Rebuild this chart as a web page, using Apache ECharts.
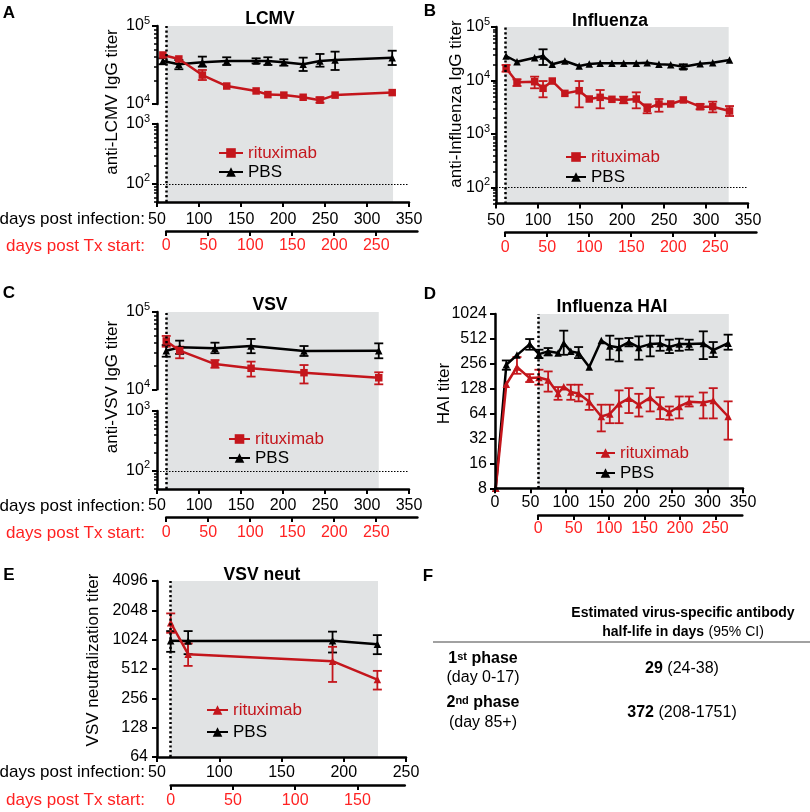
<!DOCTYPE html>
<html>
<head>
<meta charset="utf-8">
<title>Virus-specific antibody titers after rituximab</title>
<script src="https://cdn.jsdelivr.net/npm/echarts@6.0.0/dist/echarts.min.js"></script>
<style>
  html, body { margin: 0; padding: 0; background: #fff; }
  #chart { width: 810px; height: 812px; }
</style>
</head>
<body>
<div id="chart"></div>
<script>
// ---- data (days post infection, titers) ----
// A: LCMV
const aDays = [57, 76, 104, 133, 168, 182, 201, 224, 244, 262, 330];
const aRitux = [42500, 37800, 23500, 17000, 14700, 13200, 13000, 12200, 11200, 13000, 14000];
const aRituxLo = [null, null, 20300, null, null, null, null, null, 10400, null, null];
const aRituxHi = [null, null, 27300, null, null, null, null, null, 12200, null, null];
const aPbs = [35600, 32300, 34300, 35600, 35600, 35600, 34300, 32300, 35600, 36600, 39300];
const aPbsLo = [32300, 27900, 30100, 31600, 33200, 31600, 31000, 26500, 30100, 27300, 31600];
const aPbsHi = [38500, 36600, 40500, 39700, 38500, 39700, 37400, 39300, 43800, 46900, 48200];
const aShadeEnd = 331;

// B: Influenza
const bDays = [62, 75, 96, 106, 117, 132, 149, 161, 174, 188, 202, 217, 230, 244, 258, 273, 293, 308, 328];
const bRitux = [16900, 9250, 9500, 7150, 9770, 5750, 6450, 4510, 4850, 4450, 4330, 4510, 3020, 3640, 3640, 4330, 3240, 3240, 2690];
const bRituxLo = [14600, 7890, 7150, 4850, null, null, 3150, null, 3020, null, 3750, 3020, 2440, 2610, null, null, 2900, 2540, 2170];
const bRituxHi = [19500, 10500, 11800, 9770, null, null, 9770, null, 6640, null, 4980, 6010, 3590, 4510, null, null, 3640, 4020, 3330];
const bPbs = [28700, 22400, 26700, 28700, 20100, 23100, 18700, 20300, 20900, 20900, 20900, 20900, 21500, 20100, 19800, 18100, 20500, 21500, 24200];
const bPbsLo = [null, null, null, 19500, null, null, null, null, null, null, null, null, null, null, null, 16400, null, null, null];
const bPbsHi = [null, null, null, 38300, null, null, null, null, null, null, null, null, null, null, null, 20100, null, null, null];
const bShadeEnd = 327;

// C: VSV
const cDays = [61, 77, 119, 162, 225, 314];
const cRitux = [42200, 31600, 21200, 18700, 16400, 14100];
const cRituxLo = [35600, 25200, 19000, 14600, 11900, 11600];
const cRituxHi = [49000, 35600, 23900, 22800, 20600, 16600];
const cPbs = [31600, 34900, 33900, 36300, 31300, 31600];
const cPbsLo = [26400, 28700, 29300, 29300, 27000, 25200];
const cPbsHi = [37400, 42600, 40100, 44800, 36300, 39300];
const cShadeEnd = 314;

// D: Influenza HAI
const dDays = [1, 16, 31, 49, 62, 75, 89, 97, 107, 118, 133, 150, 162, 175, 189, 203, 219, 233, 246, 260, 274, 294, 308, 329];
const dRitux = [8, 145, 234, 172, 175, 163, 112, 135, 117, 112, 89, 59, 63.5, 84, 98, 82, 100, 78, 66, 78, 89, 87, 92, 59];
const dRituxLo = [null, null, 194, 154, 143, 118, 94, null, 94, 90, 71, 39, 49, 49, 65, 59, 68, 55, 54, 56, 78, 56, 56, 31];
const dRituxHi = [null, null, 309, 192, 217, 207, 134, null, 143, 143, 111, 82, 82, 122, 130, 111, 130, 101, 78, 103, 103, 115, 130, 90];
const dPbs = [8, 249, 326, 443, 335, 362, 345, 455, 362, 345, 234, 490, 421, 404, 469, 404, 443, 451, 408, 443, 443, 451, 375, 455];
const dPbsLo = [null, 217, null, 379, 300, 323, null, 329, null, 300, null, null, 287, 274, 416, 287, 315, 368, 345, 368, 379, 292, 309, 379];
const dPbsHi = [null, 281, null, 510, 379, 397, null, 644, null, 408, null, null, 560, 515, 525, 549, 560, 560, 501, 515, 501, 632, 469, 576];
const dShadeEnd = 330;

// E: VSV neutralization
const eDays = [61, 75, 191, 227];
const eRitux = [1527, 727, 616, 399];
const eRituxLo = [1205, 551, 377, 315];
const eRituxHi = [1904, 936, 865, 490];
const ePbs = [997, 995, 997, 921];
const ePbsLo = [768, 727, 756, 727];
const ePbsHi = [1254, 1254, 1238, 1140];
const eShadeEnd = 227.5;

// ticks
const dayTicks = [50, 100, 150, 200, 250, 300, 350];
const dayTicksD = [0, 50, 100, 150, 200, 250, 300, 350];
const dayTicksE = [50, 100, 150, 200, 250];
const txTicks = [0, 50, 100, 150, 200, 250];
const txTicksE = [0, 50, 100, 150];
const hiTiter = [10000, 100000];
const loTiter = [100, 1000];
const allTiter = [100, 1000, 10000, 100000];
const haiTicks = [8, 16, 32, 64, 128, 256, 512, 1024];
const neutTicks = [64, 128, 256, 512, 1024, 2048, 4096];
const detectionLimit = 100;
const TX_START = 61; // infection day of first rituximab dose

// ---- styling ----
const FONT = '"Liberation Sans", Arial, Helvetica, sans-serif';
const RED = '#c4161c';
const TX_RED = '#ff2222';
const SHADE = '#e1e3e4';

const grid = [], xAxis = [], yAxis = [], series = [], legend = [], graphic = [];

function addGrid(left, top, width, height) {
  grid.push({ left, top, width, height, containLabel: false, outerBoundsMode: 'none' });
  return grid.length - 1;
}
function hidden(list, gridIndex, min, max) {
  list.push({ type: 'value', gridIndex, min, max, show: false });
  return list.length - 1;
}
function dayAxis(gridIndex, min, max, ticks, color, margin) {
  xAxis.push({
    type: 'value', gridIndex, min, max, position: 'bottom', z: 5,
    axisLine: { show: true, onZero: false, lineStyle: { color: '#000', width: 2.5 } },
    axisTick: { show: true, length: 5, customValues: ticks, lineStyle: { color: '#000', width: 2 } },
    axisLabel: { show: true, customValues: ticks, margin, fontSize: 16, fontFamily: FONT, color },
    splitLine: { show: false }
  });
  return xAxis.length - 1;
}
const powRich = {
  b: { fontSize: 16, fontFamily: FONT, color: '#000', lineHeight: 22 },
  s: { fontSize: 11, fontFamily: FONT, color: '#000', lineHeight: 12, verticalAlign: 'top' }
};
function minorTicks(min, max) {
  const out = [];
  for (let k = 0; k <= 5; k++) {
    for (let m = 2; m <= 9; m++) {
      const v = m * Math.pow(10, k);
      if (v >= min && v <= max) out.push(v);
    }
  }
  return out;
}
function logAxis(gridIndex, min, max, base, majors, margin) {
  const label = base === 10
    ? { formatter: v => '{b|10}{s|' + Math.round(Math.log10(v)) + '}', rich: powRich }
    : { formatter: v => String(Math.round(v)), fontSize: 16, fontFamily: FONT, color: '#000' };
  yAxis.push({
    type: 'log', logBase: base, gridIndex, min, max, position: 'left', z: 5,
    axisLine: { show: true, onZero: false, lineStyle: { color: '#000', width: 2.5 } },
    axisTick: { show: true, length: 5, customValues: majors, lineStyle: { color: '#000', width: 2 } },
    axisLabel: Object.assign({ show: true, customValues: majors, margin }, label),
    splitLine: { show: false }
  });
  const idx = yAxis.length - 1;
  if (base === 10) {
    yAxis.push({
      type: 'log', logBase: 10, gridIndex, min, max, position: 'left', z: 5,
      axisLine: { show: false },
      axisTick: { show: true, length: 3, customValues: minorTicks(min, max), lineStyle: { color: '#000', width: 1.5 } },
      axisLabel: { show: false }, splitLine: { show: false }
    });
  }
  return idx;
}
function txAxis(left, width, min, max, txMax, ticks, axisY, margin) {
  const ppd = width / (max - min);
  const g = addGrid(left + (TX_START - min) * ppd, axisY - 1, txMax * ppd, 1);
  dayAxis(g, 0, txMax, ticks, TX_RED, margin);
  hidden(yAxis, g, 0, 1);
}
function backdrop(xi, yi, shadeEnd) {
  series.push({
    type: 'line', xAxisIndex: xi, yAxisIndex: yi, data: [], z: 1, silent: true,
    markArea: { silent: true, itemStyle: { color: SHADE }, data: [[{ xAxis: TX_START }, { xAxis: shadeEnd }]] },
    markLine: {
      silent: true, symbol: 'none', label: { show: false },
      lineStyle: { color: '#000', width: 2.5, type: [2.2, 2.5] }, data: [{ xAxis: TX_START }]
    }
  });
}
function limitLine(xi, yi) {
  series.push({
    type: 'line', xAxisIndex: xi, yAxisIndex: yi, data: [], z: 1, silent: true,
    markLine: {
      silent: true, symbol: 'none', label: { show: false },
      lineStyle: { color: '#000', width: 1.2, type: [1.5, 1.5] }, data: [{ yAxis: detectionLimit }]
    }
  });
}
function lineSeries(name, color, symbol, xi, yi, days, vals) {
  series.push({
    name, type: 'line', xAxisIndex: xi, yAxisIndex: yi,
    data: days.map((d, i) => [d, vals[i]]),
    symbol, symbolSize: 7.5, showSymbol: true, z: 4,
    color, itemStyle: { color }, lineStyle: { color, width: 2.5 }
  });
}
function errorBars(color, xi, yi, days, lo, hi) {
  const rows = days.map((d, i) => [d, lo[i], hi[i]]).filter(r => r[1] != null);
  series.push({
    type: 'custom', xAxisIndex: xi, yAxisIndex: yi, data: rows, z: 3, silent: true,
    encode: { x: 0, y: [1, 2] },
    renderItem: (params, api) => {
      const p0 = api.coord([api.value(0), api.value(1)]);
      const p1 = api.coord([api.value(0), api.value(2)]);
      const w = 4.5;
      const st = { stroke: color, lineWidth: 1.8, fill: null };
      return {
        type: 'group', children: [
          { type: 'line', shape: { x1: p0[0], y1: p0[1], x2: p1[0], y2: p1[1] }, style: st },
          { type: 'line', shape: { x1: p0[0] - w, y1: p0[1], x2: p0[0] + w, y2: p0[1] }, style: st },
          { type: 'line', shape: { x1: p1[0] - w, y1: p1[1], x2: p1[0] + w, y2: p1[1] }, style: st }
        ]
      };
    }
  });
}
function addLegend(tag, left, top, itemWidth, itemGap) {
  legend.push({
    orient: 'vertical', left, top, itemWidth, itemHeight: 12, itemGap, padding: 0,
    selectedMode: false,
    textStyle: { fontSize: 17, fontFamily: FONT, color: '#000', lineHeight: 18 },
    formatter: n => n.split(' ')[0],
    data: [{ name: 'rituximab ' + tag, textStyle: { color: RED } }, { name: 'PBS ' + tag }]
  });
}
function text(x, y, str, style, rotation) {
  graphic.push({
    type: 'text', x, y, rotation: rotation || 0, silent: true,
    style: Object.assign({
      text: str, fontFamily: FONT, fontSize: 17, fill: '#000', align: 'center', verticalAlign: 'middle'
    }, style || {})
  });
}

// ---- panel A: split log axis ----
{
  const gF = addGrid(157, 26, 252, 176);
  const xF = dayAxis(gF, 50, 350, dayTicks, '#000', 9.5);
  const yF = hidden(yAxis, gF, 0, 1);
  backdrop(xF, yF, aShadeEnd);
  const gT = addGrid(157, 26, 252, 78);
  const xT = hidden(xAxis, gT, 50, 350);
  const yT = logAxis(gT, 10000, 100000, 10, hiTiter, 7);
  const gB = addGrid(157, 124, 252, 78);
  const xB = hidden(xAxis, gB, 50, 350);
  const yB = logAxis(gB, 50, 1000, 10, loTiter, 7);
  limitLine(xB, yB);
  errorBars('#000', xT, yT, aDays, aPbsLo, aPbsHi);
  errorBars(RED, xT, yT, aDays, aRituxLo, aRituxHi);
  lineSeries('PBS A', '#000', 'triangle', xT, yT, aDays, aPbs);
  lineSeries('rituximab A', RED, 'rect', xT, yT, aDays, aRitux);
  txAxis(157, 252, 50, 350, 299, txTicks, 231, 7);
  addLegend('A', 218, 144, 24, 1);
}
// ---- panel B ----
{
  const g = addGrid(496, 27, 252, 176.6);
  const x = dayAxis(g, 50, 350, dayTicks, '#000', 8.5);
  const y = logAxis(g, 50, 100000, 10, allTiter, 6);
  backdrop(x, y, bShadeEnd);
  limitLine(x, y);
  errorBars('#000', x, y, bDays, bPbsLo, bPbsHi);
  errorBars(RED, x, y, bDays, bRituxLo, bRituxHi);
  lineSeries('PBS B', '#000', 'triangle', x, y, bDays, bPbs);
  lineSeries('rituximab B', RED, 'rect', x, y, bDays, bRitux);
  txAxis(496, 252, 50, 350, 299, txTicks, 232, 8);
  addLegend('B', 565, 148, 20, 2);
}
// ---- panel C: split log axis ----
{
  const gF = addGrid(157, 312, 252, 177);
  const xF = dayAxis(gF, 50, 350, dayTicks, '#000', 9);
  const yF = hidden(yAxis, gF, 0, 1);
  backdrop(xF, yF, cShadeEnd);
  const gT = addGrid(157, 312, 252, 77.3);
  const xT = hidden(xAxis, gT, 50, 350);
  const yT = logAxis(gT, 10000, 100000, 10, hiTiter, 7);
  const gB = addGrid(157, 411, 252, 78);
  const xB = hidden(xAxis, gB, 50, 350);
  const yB = logAxis(gB, 50, 1000, 10, loTiter, 7);
  limitLine(xB, yB);
  errorBars('#000', xT, yT, cDays, cPbsLo, cPbsHi);
  errorBars(RED, xT, yT, cDays, cRituxLo, cRituxHi);
  lineSeries('PBS C', '#000', 'triangle', xT, yT, cDays, cPbs);
  lineSeries('rituximab C', RED, 'rect', xT, yT, cDays, cRitux);
  txAxis(157, 252, 50, 350, 299, txTicks, 517, 8);
  addLegend('C', 228, 430, 21, 1);
}
// ---- panel D: HAI, log2 ----
{
  const g = addGrid(495, 314, 248, 174.3);
  const x = dayAxis(g, 0, 350, dayTicksD, '#000', 6);
  const y = logAxis(g, 8, 1024, 2, haiTicks, 8);
  backdrop(x, y, dShadeEnd);
  errorBars('#000', x, y, dDays, dPbsLo, dPbsHi);
  errorBars(RED, x, y, dDays, dRituxLo, dRituxHi);
  lineSeries('PBS D', '#000', 'triangle', x, y, dDays, dPbs);
  lineSeries('rituximab D', RED, 'triangle', x, y, dDays, dRitux);
  txAxis(495, 248, 0, 350, 288, txTicks, 515, 6);
  addLegend('D', 595, 444, 19, 2);
}
// ---- panel E: neutralization, log2 ----
{
  const g = addGrid(157, 581, 249, 176);
  const x = dayAxis(g, 50, 250, dayTicksE, '#000', 7.5);
  const y = logAxis(g, 64, 4096, 2, neutTicks, 9);
  backdrop(x, y, eShadeEnd);
  errorBars('#000', x, y, eDays, ePbsLo, ePbsHi);
  errorBars(RED, x, y, eDays, eRituxLo, eRituxHi);
  lineSeries('PBS E', '#000', 'triangle', x, y, eDays, ePbs);
  lineSeries('rituximab E', RED, 'triangle', x, y, eDays, eRitux);
  txAxis(157, 249, 50, 250, 188, txTicksE, 785, 7.5);
  addLegend('E', 206, 701, 21, 4);
}

// ---- texts ----
[['A', 9, 13], ['B', 430, 11], ['C', 9, 293], ['D', 430, 294], ['E', 9, 575], ['F', 428, 576]]
  .forEach(([t, x, y]) => text(x, y, t, { fontWeight: 'bold', fontSize: 17 }));
[['LCMV', 270, 19], ['Influenza', 610, 21], ['VSV', 270, 305], ['Influenza HAI', 612, 307.5], ['VSV neut', 262, 575]]
  .forEach(([t, x, y]) => text(x, y, t, { fontWeight: 'bold', fontSize: 17.5 }));
const up = Math.PI / 2;
text(112.5, 102, 'anti-LCMV IgG titer', null, up);
text(456, 104, 'anti-Influenza IgG titer', null, up);
text(112.5, 387, 'anti-VSV IgG titer', null, up);
text(444, 393.5, 'HAI titer', null, up);
text(93.5, 660, 'VSV neutralization titer', null, up);
[[219.5, 246], [506, 533], [772.5, 800.5]].forEach(([yb, yr]) => {
  text(145, yb, 'days post infection:', { align: 'right' });
  text(145, yr, 'days post Tx start:', { align: 'right', fill: TX_RED });
});

// ---- panel F: half-life table ----
const fRich = {
  h: { fontSize: 14, fontWeight: 'bold', fontFamily: FONT, fill: '#000' },
  hn: { fontSize: 14, fontFamily: FONT, fill: '#000' },
  b: { fontSize: 16, fontWeight: 'bold', fontFamily: FONT, fill: '#000' },
  n: { fontSize: 16, fontFamily: FONT, fill: '#000' },
  s: { fontSize: 11, fontWeight: 'bold', fontFamily: FONT, fill: '#000', verticalAlign: 'top', lineHeight: 11 }
};
function fText(x, y, str) { text(x, y, str, { rich: fRich, fontSize: 16 }); }
fText(683, 613, '{h|Estimated virus-specific antibody}');
fText(683, 632, '{h|half-life in days} {hn|(95% CI)}');
graphic.push({ type: 'line', silent: true, shape: { x1: 433, y1: 642, x2: 810, y2: 642 }, style: { stroke: '#444', lineWidth: 1.2 } });
fText(483, 659, '{b|1}{s|st}{b| phase}');
fText(483, 678, '{n|(day 0-17)}');
fText(682, 669, '{b|29} {n|(24-38)}');
fText(483, 703, '{b|2}{s|nd}{b| phase}');
fText(483, 723, '{n|(day 85+)}');
fText(682, 713, '{b|372} {n|(208-1751)}');

const chart = echarts.init(document.getElementById('chart'), null, { renderer: 'canvas' });
chart.setOption({
  animation: false,
  backgroundColor: '#fff',
  textStyle: { fontFamily: FONT },
  grid, xAxis, yAxis, series, legend, graphic
});
</script>
</body>
</html>
